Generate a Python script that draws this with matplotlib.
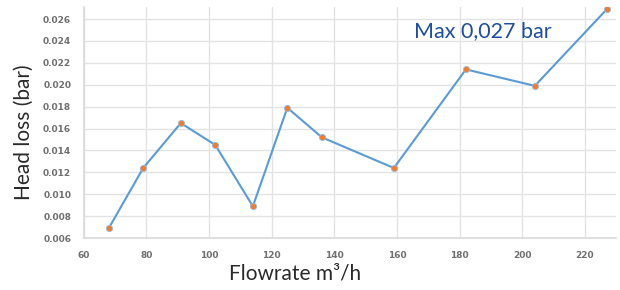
import matplotlib
matplotlib.use("Agg")
import matplotlib.pyplot as plt

# data
flowrate = [68, 79, 91, 102, 114, 125, 136, 159, 182, 204, 227]
head_loss = [0.0069, 0.0124, 0.0165, 0.0145, 0.0089, 0.0179, 0.0152,
             0.0124, 0.0214, 0.0199, 0.0269]
xticks = [60, 80, 100, 120, 140, 160, 180, 200, 220]
yticks = [0.006, 0.008, 0.010, 0.012, 0.014, 0.016, 0.018, 0.020,
          0.022, 0.024, 0.026]

fig = plt.figure(figsize=(6.2, 2.9), dpi=100)
ax = fig.add_axes([0.135, 0.179, 0.859, 0.797])

ax.plot(flowrate, head_loss, color="#5b9bd5", lw=1.5, zorder=3,
        marker="o", ms=4.5, mfc="#ed7d31", mec="#9dbbe0", mew=0.6)

ax.set_xlim(60, 230)
ax.set_ylim(0.006, 0.0271)
ax.set_xticks(xticks)
ax.set_yticks(yticks)
ax.set_xticklabels([str(t) for t in xticks])
ax.set_yticklabels([f"{t:.3f}" for t in yticks])
ax.tick_params(length=0, labelsize=6.5, labelcolor="#707070", pad=9)
for lab in ax.get_xticklabels() + ax.get_yticklabels():
    lab.set_fontweight("bold")

ax.grid(True, color="#e3e3e3", lw=1.0, zorder=0)
for s in ["top", "right"]:
    ax.spines[s].set_visible(False)
for s in ["left", "bottom"]:
    ax.spines[s].set_color("#d9d9d9")
    ax.spines[s].set_linewidth(1.2)

ax.set_xlabel("Flowrate m³/h", fontsize=15, family=["Lato", "DejaVu Sans"],
              color="#2a2a2a", va="center")
ax.xaxis.set_label_coords(0.397, -0.152)
ax.set_ylabel("Head loss (bar)", fontsize=15, family="Lato",
              color="#2a2a2a", va="center")
ax.yaxis.set_label_coords(-0.112, 0.46)

ax.text(187.5, 0.0249, "Max 0,027 bar", fontsize=15.5, family="Lato",
        color="#1f4e9c", ha="center", va="center")

fig.savefig("out.png", dpi=100)
